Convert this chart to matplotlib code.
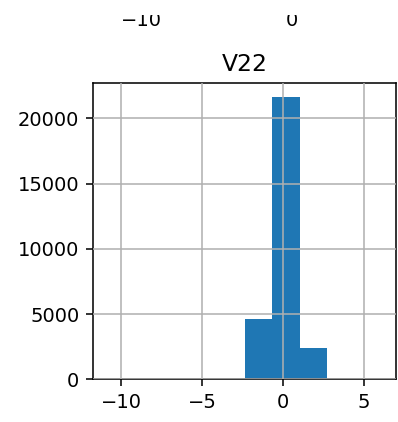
import numpy as np
import matplotlib
matplotlib.use("Agg")
import matplotlib.pyplot as plt
from matplotlib.patches import Rectangle

# V22 histogram: 10 equal bins between the observed min and max
v22_min = -10.88
v22_max = 6.13
bin_counts = [1, 0, 0, 2, 12, 4590, 21640, 2375, 5, 1]
title = "V22"
# tick labels of the neighbouring panel above, partly cut off
upper_tick_labels = ["\u221210", "0"]

edges = np.linspace(v22_min, v22_max, len(bin_counts) + 1)
centers = (edges[:-1] + edges[1:]) / 2

dpi = 140
fig = plt.figure(figsize=(398 / dpi, 422 / dpi), dpi=dpi)
ax = fig.add_axes([93 / 398, 1 - 379.3 / 422, (396 - 93) / 398, (379.3 - 83) / 422])
ax.hist(centers, bins=edges, weights=bin_counts, color="#1f77b4")
ax.grid(True)
ax.set_axisbelow(False)
ax.set_title(title)

for label, xpix in zip(upper_tick_labels, [141, 292]):
    fig.text(xpix / 398, 1 - 25.5 / 422, label, ha="center", va="baseline", fontsize=10)
fig.patches.append(Rectangle((0, 1 - 14.5 / 422), 1, 14.5 / 422, transform=fig.transFigure,
                             facecolor="white", edgecolor="none", zorder=10))

fig.savefig("out.png", dpi=dpi)
